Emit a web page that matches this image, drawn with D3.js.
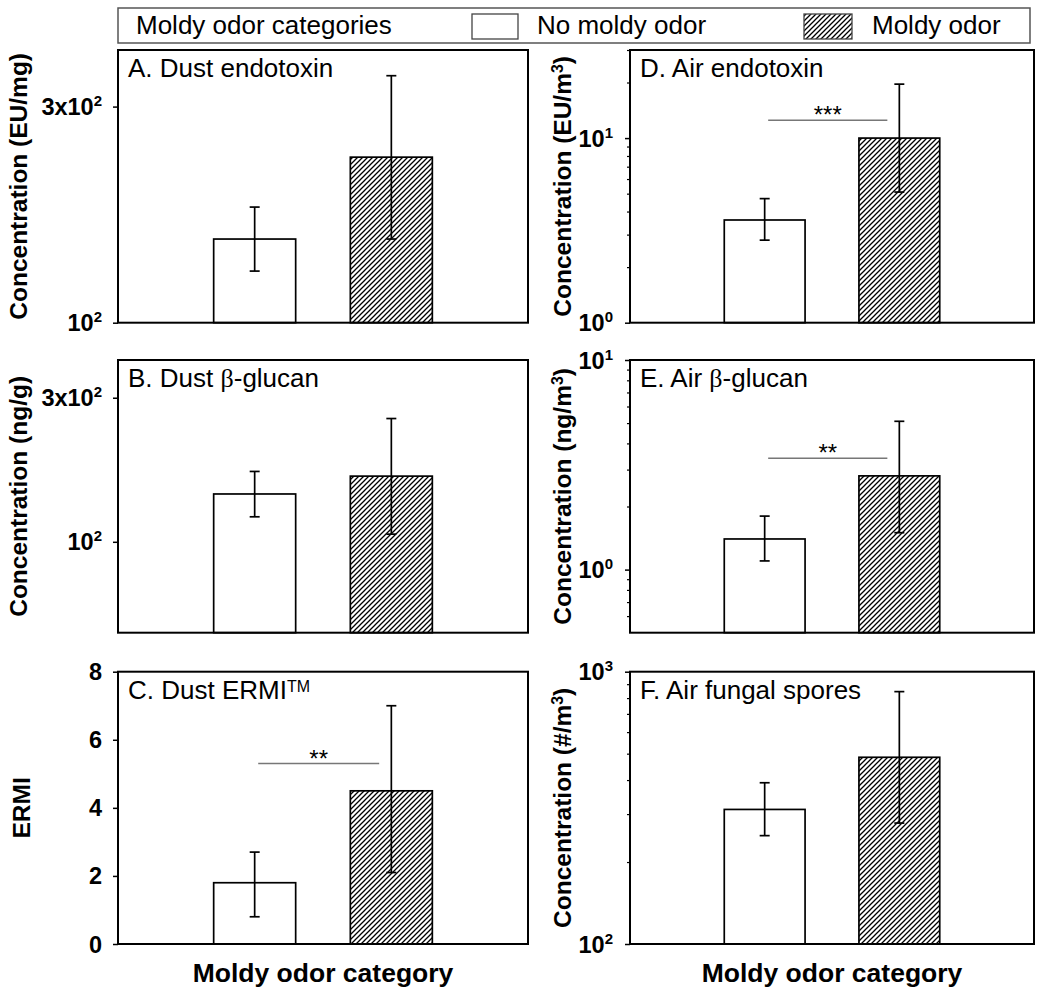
<!DOCTYPE html>
<html><head><meta charset="utf-8">
<script src="https://cdn.jsdelivr.net/npm/d3@7"></script>
<style>
body{margin:0;background:#fff}
text{font-family:"Liberation Sans",Arial,sans-serif;fill:#000}
</style>
</head><body>
<svg id="chart" width="1050" height="994"></svg>
<script>
// ---------- data ----------
const categories = ["No moldy odor", "Moldy odor"];

const dustEndotoxinMean = [153, 232];
const dustEndotoxinLow  = [130, 153];
const dustEndotoxinHigh = [180, 351];
const dustEndotoxinTicks = [100, 300];
const dustEndotoxinTickLabels = ["10^2", "3x10^2"];

const dustGlucanMean = [144, 165];
const dustGlucanLow  = [121, 106];
const dustGlucanHigh = [171, 256];
const dustGlucanTicks = [100, 300];
const dustGlucanTickLabels = ["10^2", "3x10^2"];

const dustErmiMean = [1.8, 4.5];
const dustErmiLow  = [0.8, 2.1];
const dustErmiHigh = [2.7, 7.0];
const dustErmiTicks = [0, 2, 4, 6, 8];
const dustErmiTickLabels = ["0", "2", "4", "6", "8"];

const airEndotoxinMean = [3.6, 10.0];
const airEndotoxinLow  = [2.8, 5.1];
const airEndotoxinHigh = [4.7, 19.6];
const airEndotoxinTicks = [1, 10];
const airEndotoxinTickLabels = ["10^0", "10^1"];
const airEndotoxinMinor = [2, 3, 4, 5, 6, 7, 8, 9, 20, 30];

const airGlucanMean = [1.40, 2.80];
const airGlucanLow  = [1.10, 1.50];
const airGlucanHigh = [1.80, 5.10];
const airGlucanTicks = [1, 10];
const airGlucanTickLabels = ["10^0", "10^1"];
const airGlucanMinor = [0.6, 0.7, 0.8, 0.9, 2, 3, 4, 5, 6, 7, 8, 9];

const airSporesMean = [312, 485];
const airSporesLow  = [250, 278];
const airSporesHigh = [391, 845];
const airSporesTicks = [100, 1000];
const airSporesTickLabels = ["10^2", "10^3"];
const airSporesMinor = [200, 300, 400, 500, 600, 700, 800, 900];

// significance brackets: [value level, label]
const sigErmi = [5.3, "**"];
const sigAirEndotoxin = [12.5, "***"];
const sigAirGlucan = [3.4, "**"];

// ---------- layout ----------
const svg = d3.select("#chart");
const defs = svg.append("defs");
const pat = defs.append("pattern").attr("id", "hatch")
  .attr("patternUnits", "userSpaceOnUse").attr("width", 5).attr("height", 5);
pat.append("rect").attr("width", 5).attr("height", 5).attr("fill", "#fff");
pat.append("path").attr("d", "M-1,1 L1,-1 M0,5 L5,0 M4,6 L6,4")
  .attr("stroke", "#000").attr("stroke-width", 1.3);

const L = {x0: 118, x1: 528}, R = {x0: 630, x1: 1034};
const rows = [{y0: 50, y1: 322.7}, {y0: 360, y1: 632.7}, {y0: 671.7, y1: 944}];

const panels = [
  {col: L, row: rows[0], title: [["A. Dust endotoxin"]], ytitle: [["Concentration (EU/mg)"]],
   mean: dustEndotoxinMean, low: dustEndotoxinLow, high: dustEndotoxinHigh,
   log: true, domain: [100, 400], ticks: dustEndotoxinTicks, labels: dustEndotoxinTickLabels, minor: []},
  {col: L, row: rows[1], title: [["B. Dust "], ["β", "beta"], ["-glucan"]], ytitle: [["Concentration (ng/g)"]],
   mean: dustGlucanMean, low: dustGlucanLow, high: dustGlucanHigh,
   log: true, domain: [50, 400], ticks: dustGlucanTicks, labels: dustGlucanTickLabels, minor: []},
  {col: L, row: rows[2], title: [["C. Dust ERMI"], ["TM", "sup"]], ytitle: [["ERMI"]], ytitleX: 30,
   mean: dustErmiMean, low: dustErmiLow, high: dustErmiHigh,
   log: false, domain: [0, 8], ticks: dustErmiTicks, labels: dustErmiTickLabels, minor: [], sig: sigErmi},
  {col: R, row: rows[0], title: [["D. Air endotoxin"]], ytitle: [["Concentration (EU/m"], ["3", "sup"], [")"]],
   mean: airEndotoxinMean, low: airEndotoxinLow, high: airEndotoxinHigh,
   log: true, domain: [1, 30], ticks: airEndotoxinTicks, labels: airEndotoxinTickLabels, minor: airEndotoxinMinor, sig: sigAirEndotoxin},
  {col: R, row: rows[1], title: [["E. Air "], ["β", "beta"], ["-glucan"]], ytitle: [["Concentration (ng/m"], ["3", "sup"], [")"]],
   mean: airGlucanMean, low: airGlucanLow, high: airGlucanHigh,
   log: true, domain: [0.5, 10], ticks: airGlucanTicks, labels: airGlucanTickLabels, minor: airGlucanMinor, sig: sigAirGlucan},
  {col: R, row: rows[2], title: [["F. Air fungal spores"]], ytitle: [["Concentration (#/m"], ["3", "sup"], [")"]],
   mean: airSporesMean, low: airSporesLow, high: airSporesHigh,
   log: true, domain: [100, 1000], ticks: airSporesTicks, labels: airSporesTickLabels, minor: airSporesMinor}
];

function addRich(textSel, parts, size) {
  parts.forEach(p => {
    const t = textSel.append("tspan").text(p[0]);
    if (p[1] === "sup") t.attr("font-size", size * 0.65).attr("baseline-shift", "super");
    if (p[1] === "beta") t.attr("font-family", "'Liberation Serif','DejaVu Serif',serif");
  });
}

panels.forEach(p => {
  const x0 = p.col.x0, x1 = p.col.x1, y0 = p.row.y0, y1 = p.row.y1;
  const w = x1 - x0;
  const x = d3.scalePoint().domain(categories).range([x0, x1]).padding(1);
  const bw = w * 0.2;
  const y = (p.log ? d3.scaleLog() : d3.scaleLinear()).domain(p.domain).range([y1, y0]);
  const g = svg.append("g");

  // bars
  g.selectAll("rect.bar").data(categories).join("rect")
    .attr("x", d => x(d) - bw / 2)
    .attr("y", (d, i) => y(p.mean[i]))
    .attr("width", bw)
    .attr("height", (d, i) => y1 - y(p.mean[i]))
    .attr("fill", (d, i) => i === 0 ? "#fff" : "url(#hatch)")
    .attr("stroke", "#000").attr("stroke-width", 1.7);

  // error bars
  categories.forEach((c, i) => {
    const cx = x(c);
    g.append("line").attr("x1", cx).attr("x2", cx)
      .attr("y1", y(p.low[i])).attr("y2", y(p.high[i]))
      .attr("stroke", "#000").attr("stroke-width", 1.7);
    [p.low[i], p.high[i]].forEach(v => {
      g.append("line").attr("x1", cx - 5).attr("x2", cx + 5)
        .attr("y1", y(v)).attr("y2", y(v))
        .attr("stroke", "#000").attr("stroke-width", 1.7);
    });
  });

  // significance
  if (p.sig) {
    const xa = x0 + w * 0.342, xb = x0 + w * 0.637;
    const yy = y(p.sig[0]);
    g.append("line").attr("x1", xa).attr("x2", xb).attr("y1", yy).attr("y2", yy)
      .attr("stroke", "#777").attr("stroke-width", 1.5);
    g.append("text").attr("x", (xa + xb) / 2).attr("y", yy + 3)
      .attr("text-anchor", "middle").attr("font-size", 24).text(p.sig[1]);
  }

  // frame
  g.append("rect").attr("x", x0).attr("y", y0).attr("width", w).attr("height", y1 - y0)
    .attr("fill", "none").attr("stroke", "#000").attr("stroke-width", 2);

  // axes
  const ax = g.append("g").attr("transform", `translate(${x0},0)`)
    .call(d3.axisLeft(y).tickValues(p.ticks).tickSize(5).tickFormat(""));
  ax.select(".domain").remove();
  ax.selectAll(".tick line").attr("stroke-width", 1.5);
  if (p.minor.length) {
    const am = g.append("g").attr("transform", `translate(${x0},0)`)
      .call(d3.axisLeft(y).tickValues(p.minor).tickSize(3).tickFormat(""));
    am.select(".domain").remove();
    am.selectAll(".tick line").attr("stroke-width", 1.2);
  }
  const labOff = p.col === L ? 16 : 17;
  p.ticks.forEach((v, i) => {
    const s = p.labels[i].split("^");
    const t = g.append("text").attr("x", x0 - labOff).attr("y", y(v) + 8.5)
      .attr("text-anchor", "end").attr("font-size", 23.5).attr("font-weight", "bold");
    t.append("tspan").text(s[0]);
    if (s[1]) t.append("tspan").attr("font-size", 15).attr("dy", -9).text(s[1]);
  });

  // panel title
  const tt = g.append("text").attr("x", x0 + 10).attr("y", y0 + 27).attr("font-size", 26);
  p.title.forEach(part => {
    const ts = tt.append("tspan").text(part[0]);
    if (part[1] === "sup") ts.attr("font-size", 16).attr("dy", -7);
    if (part[1] === "beta") ts.attr("font-family", "'Liberation Serif','DejaVu Serif',serif");
  });

  // y title
  const yx = p.ytitleX || (p.col === L ? 27 : 571);
  const yt = g.append("text")
    .attr("transform", `translate(${yx},${(y0 + y1) / 2}) rotate(-90)`)
    .attr("text-anchor", "middle").attr("font-size", 24.5).attr("font-weight", "bold");
  addRich(yt, p.ytitle, 24.5);
});

// x-axis labels
[L, R].forEach(c => {
  svg.append("text").attr("x", (c.x0 + c.x1) / 2).attr("y", 982)
    .attr("text-anchor", "middle").attr("font-size", 26.5).attr("font-weight", "bold")
    .text("Moldy odor category");
});

// legend
const lg = svg.append("g");
lg.append("rect").attr("x", 118).attr("y", 8).attr("width", 912).attr("height", 35)
  .attr("fill", "#fff").attr("stroke", "#555").attr("stroke-width", 1.5);
lg.append("text").attr("x", 136).attr("y", 34).attr("font-size", 26).text("Moldy odor categories");
lg.append("rect").attr("x", 472).attr("y", 14).attr("width", 46).attr("height", 25)
  .attr("fill", "#fff").attr("stroke", "#444").attr("stroke-width", 1.3);
lg.append("text").attr("x", 537).attr("y", 34).attr("font-size", 26).text(categories[0]);
lg.append("rect").attr("x", 804).attr("y", 14).attr("width", 48).attr("height", 25)
  .attr("fill", "url(#hatch)").attr("stroke", "#444").attr("stroke-width", 1.3);
lg.append("text").attr("x", 872).attr("y", 34).attr("font-size", 26).text(categories[1]);
</script>
</body></html>
